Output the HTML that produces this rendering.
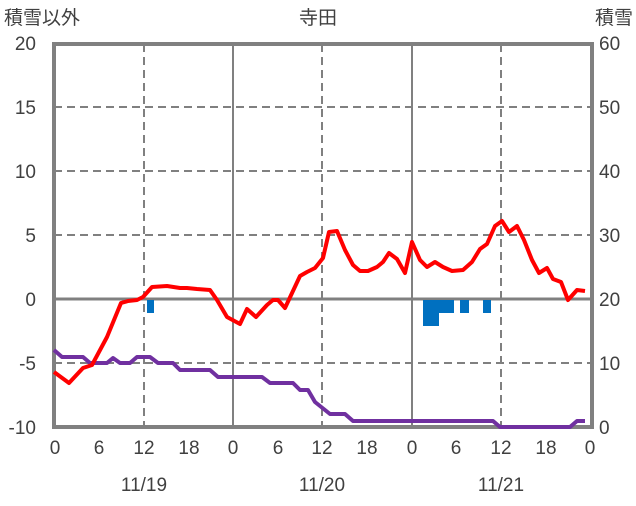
<!DOCTYPE html>
<html><head><meta charset="utf-8"><style>
body{margin:0;background:#fff}
svg text{font-family:"Liberation Sans","Noto Sans CJK JP",sans-serif;fill:#404040;font-size:19px}
</style></head><body>
<svg width="636" height="501" viewBox="0 0 636 501">
<g stroke="#808080" stroke-width="2" fill="none">
<line x1="54" y1="107" x2="592" y2="107" stroke-dasharray="8,5"/>
<line x1="54" y1="171" x2="592" y2="171" stroke-dasharray="8,5"/>
<line x1="54" y1="235" x2="592" y2="235" stroke-dasharray="8,5"/>
<line x1="54" y1="363" x2="592" y2="363" stroke-dasharray="8,5"/>
<line x1="144" y1="44" x2="144" y2="427" stroke-dasharray="8,5"/>
<line x1="322" y1="44" x2="322" y2="427" stroke-dasharray="8,5"/>
<line x1="501" y1="44" x2="501" y2="427" stroke-dasharray="8,5"/>
<line x1="233" y1="44" x2="233" y2="427"/>
<line x1="412" y1="44" x2="412" y2="427"/>
<line x1="54" y1="299" x2="592" y2="299" stroke-width="3"/>
<rect x="54" y="44" width="538" height="383" stroke-width="4"/>
</g>
<g fill="#0070c0">
<rect x="147" y="300" width="7" height="13"/>
<rect x="423" y="300" width="16" height="26"/>
<rect x="439" y="300" width="15" height="13"/>
<rect x="460" y="300" width="9" height="13"/>
<rect x="483" y="300" width="8" height="13"/>
</g>
<polyline fill="none" stroke="#7030a0" stroke-width="4" stroke-linejoin="round" points="54,350 62,357 83,357 90,363 107,363 113,358 120,363 130,363 137,357 150,357 158,363 173,363 180,370 210,370 218,377 262,377 270,383 293,383 300,390 308,390 315,402 330,414 345,414 353,421 493,421 500,427 570,427 577,421 585,421"/>
<polyline fill="none" stroke="#ff0000" stroke-width="4" stroke-linejoin="round" points="54,372 69,383 83,368 92,365 107,337 121,303 128,301 137,300 143,297 152,287 167,286 180,288 187,288 197,289 210,290 217,300 227,317 240,324 247,309 256,317 267,305 273,300 278,300 285,308 300,276 307,272 315,268 323,258 329,232 337,231 345,250 353,265 360,271 368,271 377,267 383,262 389,253 397,259 405,273 412,242 420,260 427,267 435,262 443,267 452,271 463,270 472,262 480,249 487,244 495,226 502,221 509,232 517,226 524,240 532,260 539,273 547,268 553,279 561,282 568,300 577,290 585,291"/>
<text x="4" y="24">積雪以外</text>
<text x="318" y="24" text-anchor="middle">寺田</text>
<text x="633" y="24" text-anchor="end">積雪</text>
<g text-anchor="end">
<text x="36" y="50">20</text><text x="36" y="114">15</text><text x="36" y="178">10</text><text x="36" y="242">5</text><text x="36" y="306">0</text><text x="36" y="370">-5</text><text x="36" y="434">-10</text>
</g>
<g>
<text x="599" y="50">60</text><text x="599" y="114">50</text><text x="599" y="178">40</text><text x="599" y="242">30</text><text x="599" y="306">20</text><text x="599" y="370">10</text><text x="599" y="434">0</text>
</g>
<g text-anchor="middle">
<text x="55" y="454">0</text><text x="99" y="454">6</text><text x="144" y="454">12</text><text x="189" y="454">18</text>
<text x="233" y="454">0</text><text x="278" y="454">6</text><text x="322" y="454">12</text><text x="367" y="454">18</text>
<text x="412" y="454">0</text><text x="456" y="454">6</text><text x="501" y="454">12</text><text x="546" y="454">18</text>
<text x="590" y="454">0</text>
<text x="144" y="491">11/19</text><text x="322" y="491">11/20</text><text x="501" y="491">11/21</text>
</g>
</svg>
</body></html>
